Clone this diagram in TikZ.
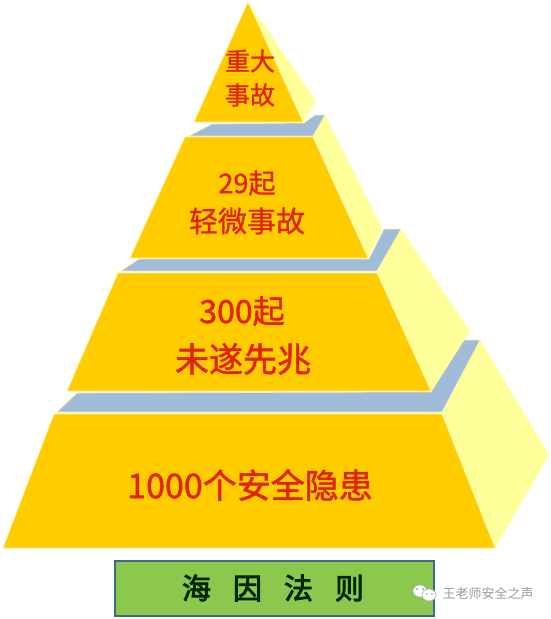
\documentclass[tikz,border=0pt]{standalone}
\usepackage{fontspec}
\newfontfamily\cjk{Noto Sans CJK SC}
\newfontfamily\cjkm[FakeBold=0.9]{Noto Sans CJK SC}
\newfontfamily\cjkh[FakeBold=1.5]{Noto Sans CJK SC}
\newfontfamily\cjkt[FakeBold=3]{Noto Sans CJK SC}
\definecolor{front}{HTML}{FFCC00}
\definecolor{sidef}{HTML}{FFFF99}
\definecolor{strip}{HTML}{A0BCD8}
\definecolor{edgeline}{HTML}{FFF09A}
\definecolor{redtxt}{HTML}{E0240A}
\definecolor{boxgreen}{HTML}{8CC84E}
\definecolor{boxline}{HTML}{3F6A80}
\definecolor{wm}{HTML}{9A9A9A}
\tikzset{
  frontf/.style={fill=front,draw=edgeline,line width=0.8pt,line join=round},
  sidep/.style={fill=sidef,draw=none},
  stripf/.style={fill=strip,draw=edgeline,line width=0.6pt},
  lab/.style={text=redtxt,inner sep=0pt,font=\cjkm},
  labh/.style={text=redtxt,inner sep=0pt,font=\cjkh},
}
\newcommand{\fsz}[1]{\fontsize{#1}{#1}\selectfont}
\begin{document}
\begin{tikzpicture}[x=1pt,y=-1pt]
\useasboundingbox (0,0) rectangle (550,619);
\fill[white] (0,0) rectangle (550,619);
% tier 4 (bottom)
\fill[sidep] (442,414) -- (480,340) -- (549,455) -- (495,548) -- cycle;
\filldraw[stripf] (57,412) -- (77,393) -- (431,392) -- (464,340) -- (480,340) -- (442,412) -- cycle;
\filldraw[frontf] (54,414) -- (442,414) -- (495,548) -- (3,548) -- cycle;
% tier 3
\fill[sidep] (377,273) -- (401,229) -- (470,331) -- (431,391) -- cycle;
\filldraw[stripf] (121,271) -- (139,259) -- (369,259) -- (384,229) -- (401,229) -- (377,271) -- cycle;
\filldraw[frontf] (118,273) -- (377,273) -- (431,391) -- (67,391) -- cycle;
% tier 2
\fill[sidep] (313,137) -- (325,115) -- (382,228) -- (368,258) -- cycle;
\filldraw[stripf] (189,136) -- (212,124) -- (304,123) -- (315,115) -- (325,115) -- (313,136) -- cycle;
\filldraw[frontf] (185,137) -- (313,137) -- (368,258) -- (130,258) -- cycle;
% tier 1
\fill[sidep] (248,2) -- (316,101) -- (303,122) -- cycle;
\filldraw[frontf] (248,2) -- (303,122) -- (194,122) -- cycle;
% labels
\node[lab] (a1) at (250,61) {\fsz{25}重大};
\node[lab] (a2) at (250,95) {\fsz{25}事故};
\node[lab] (b1) at (247,183) {\fsz{27}29起};
\node[lab] (b2) at (247,221) {\fsz{29}轻微事故};
\node[labh] (c1) at (242,311) {\fsz{32}300起};
\node[labh] (c2) at (243,359) {\fsz{34}未遂先兆};
\node[labh] (d) at (250,485) {\fsz{34}1000个安全隐患};
% title box
\node[draw=boxline,fill=boxgreen,line width=2.4pt,minimum width=319pt,minimum height=55pt,inner sep=0pt,anchor=center] (title) at (274.5,588.5) {};
\node[inner sep=0pt,text=black!85!green,font=\cjkt] (titletxt) at (273,588) {\fsz{29}海\hspace{22pt}因\hspace{22pt}法\hspace{22pt}则};
% watermark
\begin{scope}[fill=white,draw=wm!70,line width=0.7pt]
\filldraw (420,591) ellipse (7pt and 6pt);
\filldraw (429,595) ellipse (7pt and 6pt);
\end{scope}
\fill[wm] (417,589) circle (1pt) (423,589) circle (1pt) (427,594) circle (0.9pt) (432,594) circle (0.9pt);
\node[inner sep=0pt,text=wm,font=\cjk] (wmt) at (488,594) {\fsz{13}王老师安全之声};
\end{tikzpicture}
\end{document}
